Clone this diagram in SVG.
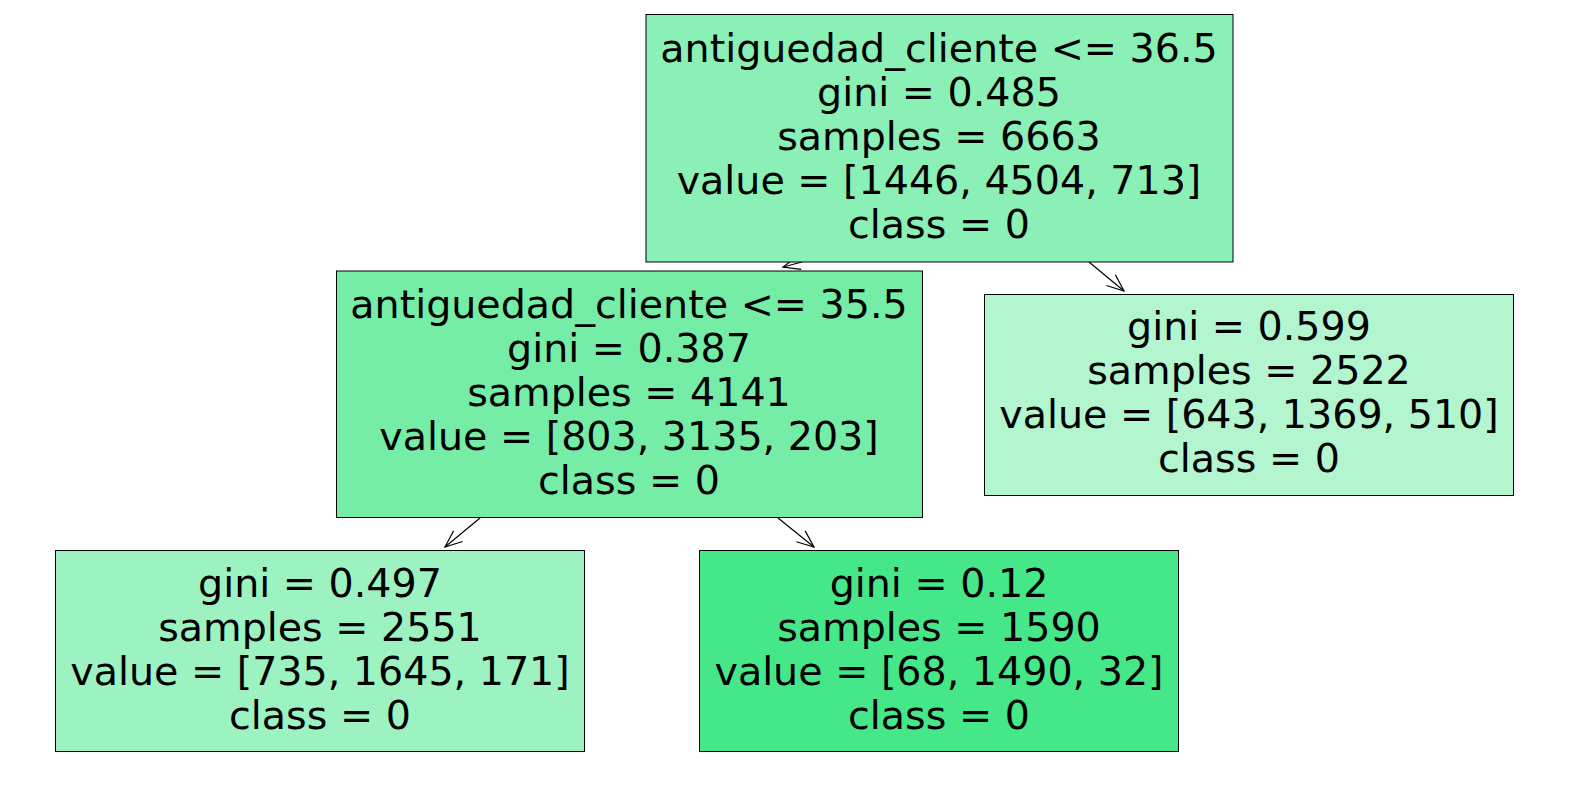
<svg xmlns="http://www.w3.org/2000/svg" width="1570" height="790" viewBox="0 0 1570 790">
<style>
.box{stroke:#000;stroke-width:1}
.t{font-family:"DejaVu Sans",sans-serif;font-size:39.6px;fill:#000;text-anchor:middle}
.edge{stroke:#000;stroke-width:1.2;fill:none}
</style>
<defs>
<marker id="ah" markerUnits="userSpaceOnUse" markerWidth="40" markerHeight="40" viewBox="-20 -20 40 40" refX="0" refY="0" orient="auto">
<path d="M-17,-7 L0,0 L-17,7" fill="none" stroke="#000" stroke-width="1.2"/>
</marker>
</defs>
<rect width="1570" height="790" fill="#fff"/>
<g id="connectors">
<line class="edge" x1="802" y1="262" x2="783" y2="267" marker-end="url(#ah)"/>
<line class="edge" x1="1089" y1="262" x2="1124" y2="291" marker-end="url(#ah)"/>
<line class="edge" x1="480" y1="518" x2="445" y2="547" marker-end="url(#ah)"/>
<line class="edge" x1="778" y1="518" x2="814" y2="547" marker-end="url(#ah)"/>
</g>
<g id="node0">
<rect class="box" x="646" y="14.5" width="587" height="247.5" fill="#8bf0b5"/>
<text class="t" x="939" y="62">antiguedad_cliente &lt;= 36.5</text>
<text class="t" x="939" y="106">gini = 0.485</text>
<text class="t" x="939" y="150">samples = 6663</text>
<text class="t" x="939" y="194">value = [1446, 4504, 713]</text>
<text class="t" x="939" y="238">class = 0</text>
</g>
<g id="node1">
<rect class="box" x="336.5" y="271" width="586" height="246.5" fill="#75eda7"/>
<text class="t" x="629" y="318">antiguedad_cliente &lt;= 35.5</text>
<text class="t" x="629" y="362">gini = 0.387</text>
<text class="t" x="629" y="406">samples = 4141</text>
<text class="t" x="629" y="450">value = [803, 3135, 203]</text>
<text class="t" x="629" y="494">class = 0</text>
</g>
<g id="node2">
<rect class="box" x="984.5" y="294.5" width="529" height="201" fill="#b2f5ce"/>
<text class="t" x="1249" y="340">gini = 0.599</text>
<text class="t" x="1249" y="384">samples = 2522</text>
<text class="t" x="1249" y="428">value = [643, 1369, 510]</text>
<text class="t" x="1249" y="472">class = 0</text>
</g>
<g id="node3">
<rect class="box" x="55.5" y="550.5" width="529" height="201" fill="#9cf2c0"/>
<text class="t" x="320" y="597">gini = 0.497</text>
<text class="t" x="320" y="641">samples = 2551</text>
<text class="t" x="320" y="685">value = [735, 1645, 171]</text>
<text class="t" x="320" y="729">class = 0</text>
</g>
<g id="node4">
<rect class="box" x="699.5" y="550.5" width="479" height="201" fill="#46e789"/>
<text class="t" x="939" y="597">gini = 0.12</text>
<text class="t" x="939" y="641">samples = 1590</text>
<text class="t" x="939" y="685">value = [68, 1490, 32]</text>
<text class="t" x="939" y="729">class = 0</text>
</g>
</svg>
